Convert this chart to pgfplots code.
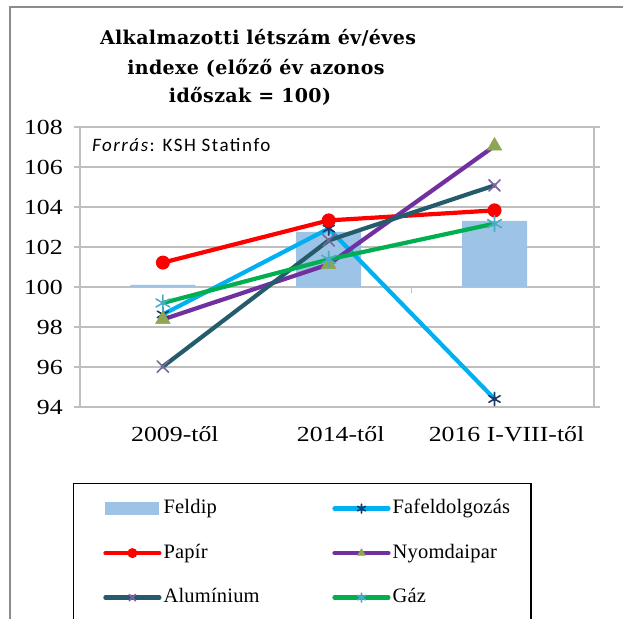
\documentclass[border=0pt]{standalone}
\usepackage{pgfplots}
\usepackage{pgfplotstable}
\pgfplotsset{compat=1.18}
\usepackage{fontspec}
\setmainfont{Liberation Serif}
\newfontfamily\tickfont[FakeStretch=1.2]{Liberation Serif}
\newfontfamily\legfont[LetterSpace=1]{Liberation Serif}
\newfontfamily\titlefont[LetterSpace=2]{DejaVu Serif}
\newfontfamily\srcfont[LetterSpace=8]{Carlito}
\definecolor{feld}{HTML}{9DC3E6}
\definecolor{fafa}{HTML}{00B0F0}
\definecolor{fafam}{HTML}{1F3864}
\definecolor{papir}{HTML}{FF0000}
\definecolor{nyom}{HTML}{7030A0}
\definecolor{nyomm}{HTML}{8EA651}
\definecolor{alu}{HTML}{245C6B}
\definecolor{alum}{HTML}{8064A2}
\definecolor{gaz}{HTML}{00B050}
\definecolor{gazm}{HTML}{4BACC6}
\definecolor{gridc}{HTML}{BFBFBF}
\definecolor{framec}{HTML}{8C8C8C}
\pgfplotstableread{
x v
0 100.1
1 102.75
2 103.3
}\feldip
\begin{document}
\begin{tikzpicture}[x=1pt,y=1pt]
\path (0,0) rectangle (623,618);
\draw[framec, line width=1.5pt] (10,-5) -- (10,611) -- (630,611);
\node[anchor=base, inner sep=0, font=\titlefont\bfseries\fontsize{19}{21}\selectfont] at (258,573) {Alkalmazotti létszám év/éves};
\node[anchor=base, inner sep=0, font=\titlefont\bfseries\fontsize{19}{21}\selectfont] at (256,543) {indexe (előző év azonos};
\node[anchor=base, inner sep=0, font=\titlefont\bfseries\fontsize{19}{21}\selectfont] at (250,515) {időszak = 100)};
\begin{axis}[
  at={(80pt,211pt)}, anchor=south west,
  scale only axis, width=514pt, height=280pt,
  xmin=-0.5, xmax=2.6, ymin=94, ymax=108,
  ytick={94,96,...,108},
  xtick={0,1,2}, xticklabels={2009-től,2014-től,2016 I-VIII-től},
  ymajorgrids, grid style={gridc, line width=1.2pt},
  axis line style={gridc, line width=1.2pt},
  tick align=outside, major tick length=6pt,
  ytick style={gridc, line width=1.2pt},
  xtick style={draw=none},
  /pgf/number format/assume math mode=true,
  ticklabel style={font=\tickfont\fontsize{21.5}{22}\selectfont, text=black},
  yticklabel style={anchor=east, inner sep=0pt, xshift=-11pt},
  xticklabel style={anchor=base, inner sep=0pt, yshift=-28pt, xshift=12pt},
  legend columns=2,
  legend cell align=left,
  legend style={at={(rel axis cs:-0.0136,-0.2714)}, anchor=north west,
    draw=black, line width=1.2pt, inner xsep=19pt, inner ysep=12pt,
    font=\legfont\fontsize{20.5}{22}\selectfont,
    nodes={inner xsep=2pt, inner ysep=2pt, text height=16pt, text depth=6pt},
    row sep=18.5pt,
    /tikz/every even column/.append style={column sep=60pt}},
  legend image code/.code={\path (-10.7pt,0pt); \draw[mark repeat=2,mark phase=2,#1] plot coordinates {(0pt,0pt)(27pt,0pt)(54pt,0pt)};},
  legend image post style={mark size=4.5pt},
]
\addplot[ybar, stack plots=y, bar shift=0pt, bar width=65pt, draw=none, fill=none, forget plot] table[x=x, y expr=100] {\feldip};
\addplot[ybar, stack plots=y, bar shift=0pt, bar width=65pt, draw=none, fill=feld,
  legend image code/.code={\path (-10.7pt,0pt); \fill[feld] (0pt,-6.3pt) rectangle (54pt,6.3pt);}] table[x=x, y expr=\thisrow{v}-100] {\feldip};
\addlegendentry{Feldip}
\addplot[stack plots=false, fafa, line width=4.2pt, line cap=round, line join=round, mark=asterisk, mark size=6.5pt, mark options={fafam, line width=1.6pt}] coordinates {(0,98.63)(1,102.92)(2,94.4)};
\addlegendentry{Fafeldolgozás}
\addplot[stack plots=false, papir, line width=4.2pt, line cap=round, line join=round, mark=*, mark size=6.5pt, mark options={papir, fill=papir, line width=1pt}] coordinates {(0,101.22)(1,103.33)(2,103.83)};
\addlegendentry{Papír}
\addplot[stack plots=false, nyom, line width=4.2pt, line cap=round, line join=round, mark=triangle*, mark size=8.5pt, mark options={nyomm, fill=nyomm, line width=0.5pt}] coordinates {(0,98.38)(1,101.13)(2,107.05)};
\addlegendentry{Nyomdaipar}
\addplot[stack plots=false, alu, line width=4.2pt, line cap=round, line join=round, mark=x, mark size=8pt, mark options={alum, line width=1.6pt}] coordinates {(0,96.02)(1,102.33)(2,105.08)};
\addlegendentry{Alumínium}
\addplot[stack plots=false, gaz, line width=4.2pt, line cap=round, line join=round, mark=asterisk, mark size=8pt, mark options={gazm, line width=1.6pt}] coordinates {(0,99.2)(1,101.38)(2,103.17)};
\addlegendentry{Gáz}
\draw[gridc, line width=1.2pt] (axis cs:1.5,100) -- ++(0pt,-6pt);
\end{axis}
\node[anchor=base west, inner sep=0, font=\srcfont\fontsize{19}{20}\selectfont] at (92,466) {\textit{Forrás}: KSH Statinfo};
\pgfresetboundingbox
\path[use as bounding box] (0,0) rectangle (623,618);
\end{tikzpicture}
\end{document}
